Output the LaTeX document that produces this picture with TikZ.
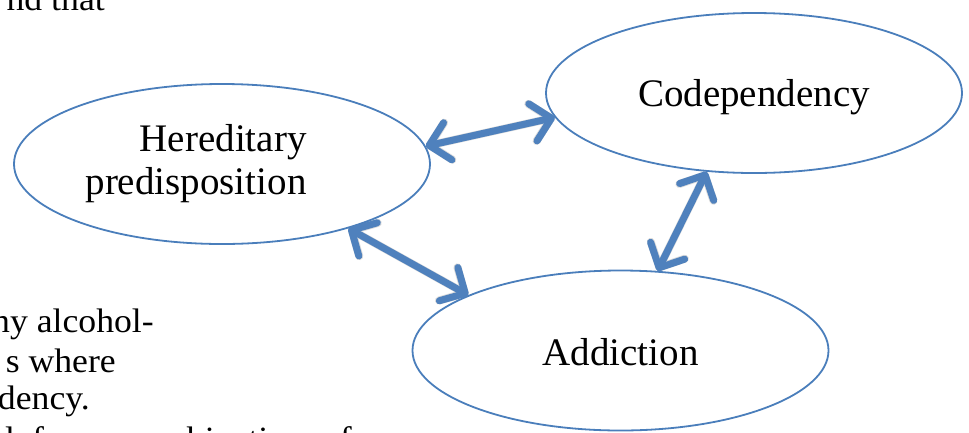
\documentclass[tikz,border=0pt]{standalone}
\usepackage{fontspec}
\setmainfont{Liberation Serif}
\newfontfamily\bodyfont[FakeStretch=1.05]{Liberation Serif}
\usetikzlibrary{arrows.meta,shapes.geometric,backgrounds}
\definecolor{outline}{HTML}{4A7EBB}
\definecolor{arrowblue}{HTML}{4F81BD}

\begin{document}
\begin{tikzpicture}[x=1pt,y=-1pt,
  bubble/.style={ellipse, draw=outline, line width=1.8pt,
    minimum width=416pt, minimum height=160pt, inner sep=0pt,
    font=\fontsize{39}{43}\selectfont},
  barbs/.style={{Straight Barb[length=19pt,width=38pt,round]}-{Straight Barb[length=19pt,width=38pt,round]}},
  link/.style={draw=arrowblue, line width=7pt, line cap=round, barbs},
  linkshadow/.style={draw=black!14, line width=8pt, line cap=round, barbs,
    xshift=2pt, yshift=-3pt},
  body/.style={font=\bodyfont\fontsize{34}{39}\selectfont, inner sep=0pt}]

\useasboundingbox (0,0) rectangle (969,432);
\clip (0,0) rectangle (969,432);

% surrounding paragraph text, cut off at the left edge
\node[body, anchor=base east] (p1) at (105,10) {nd that};
\node[body, anchor=base east] (p2) at (154,332) {ny alcohol-};
\node[body, anchor=base east] (p3) at (116,372) {s where};
\node[body, anchor=base east] (p4) at (90,409) {dency.};
\node[body, anchor=base west] (p5) at (-4,450) {\spaceskip=18pt d for a combination of};

% the three concepts
\node[bubble, align=right] (her) at (222,164)
  {Hereditary\rule{52pt}{0pt}\\predisposition\rule{52pt}{0pt}};
\node[bubble, text height=26pt, text depth=0pt] (cod) at (754,93) {Codependency};
\node[bubble, text height=30pt, text depth=0pt] (add) at (620.5,350.5) {Addiction};

% soft drop shadows under the connectors
\begin{scope}[on background layer]
  \draw[linkshadow] (her.5) -- (cod.187);
  \draw[linkshadow] (her.-27) -- (add.160);
  \draw[linkshadow] (cod.-121) -- (add.65);
\end{scope}

% two-way links
\draw[link] (her.5) -- (cod.187);
\draw[link] (her.-27) -- (add.160);
\draw[link] (cod.-121) -- (add.65);
\end{tikzpicture}
\end{document}
